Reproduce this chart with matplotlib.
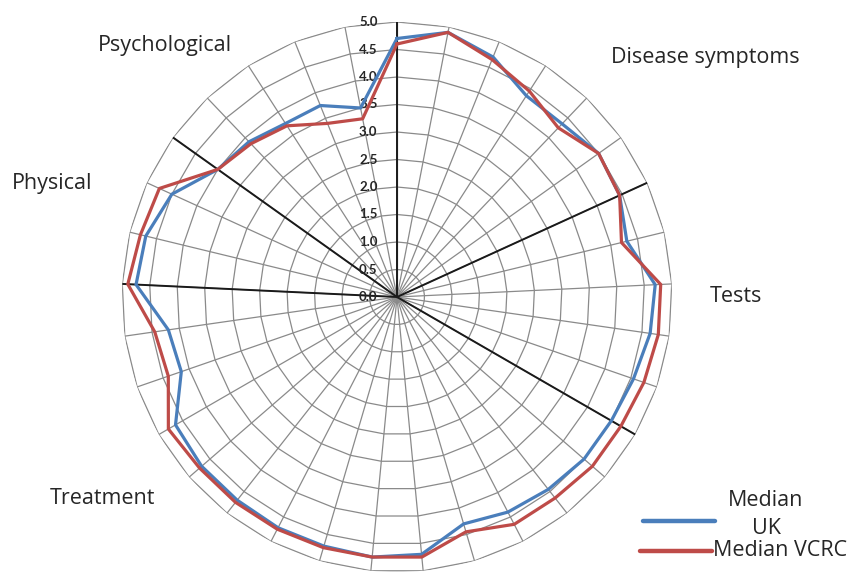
import numpy as np
import matplotlib
matplotlib.use("Agg")
import matplotlib.pyplot as plt
from matplotlib.lines import Line2D

# 33 questionnaire items, median score per item (0-5 scale)
n_items = 33
median_uk = [4.7, 4.9, 4.7, 4.35, 4.35, 4.5, 4.45, 4.3, 4.7, 4.65, 4.55,
             4.5, 4.5, 4.45, 4.4, 4.3, 4.7, 4.75, 4.72, 4.72, 4.7, 4.7,
             4.65, 4.15, 4.2, 4.75, 4.7, 4.5, 4.0, 3.9, 3.75, 3.75, 3.5]
median_vcrc = [4.6, 4.9, 4.65, 4.45, 4.25, 4.5, 4.45, 4.2, 4.8, 4.8, 4.75,
               4.7, 4.7, 4.65, 4.65, 4.45, 4.75, 4.75, 4.75, 4.75, 4.75, 4.75,
               4.8, 4.4, 4.45, 4.9, 4.8, 4.75, 4.0, 3.85, 3.7, 3.4, 3.3]

# item index where each domain starts
domain_starts = [0, 6, 11, 25, 28]
domain_names = ["Disease symptoms", "Tests", "Treatment", "Physical", "Psychological"]
domain_label_px = [(705, 57), (736, 296), (102, 499), (52, 184), (165, 45)]

r_ticks = np.arange(0, 5.01, 0.5)

W, H = 851, 574
fig = plt.figure(figsize=(W / 100, H / 100), dpi=100)
fig.patch.set_facecolor("white")

cx, cy, R = 397, 297, 275
ax = fig.add_axes([(cx - R) / W, (H - cy - R) / H, 2 * R / W, 2 * R / H],
                  projection="polar")
ax.set_theta_zero_location("N")
ax.set_theta_direction(-1)
ax.set_ylim(0, 5)
ax.grid(False)
ax.spines["polar"].set_visible(False)
ax.set_xticks([])
ax.set_yticks([])
ax.patch.set_alpha(0)

theta = np.arange(n_items) * 2 * np.pi / n_items
theta_closed = np.append(theta, theta[0])

# polygon gridlines and spokes
grid_col = "#8a8a8a"
for r in r_ticks[1:]:
    ax.plot(theta_closed, np.full(n_items + 1, r), color=grid_col, lw=0.9, zorder=1)
for t in theta:
    ax.plot([t, t], [0, 5], color=grid_col, lw=0.9, zorder=1)

# domain separators (the first one doubles as the value axis)
for k in domain_starts:
    ax.plot([theta[k], theta[k]], [0, 5], color="#1a1a1a", lw=1.4, zorder=3)

for r in r_ticks:
    ax.annotate(f"{r:.1f}", xy=(0, r), xytext=(-14, 0), textcoords="offset points",
                ha="right", va="center", fontsize=9.5, family="Lato",
                fontweight="bold", color="#262626", zorder=4)

ax.plot(theta_closed, median_uk + median_uk[:1], color="#4A7EBB", lw=2.3, zorder=5)
ax.plot(theta_closed, median_vcrc + median_vcrc[:1], color="#BE4B48", lw=2.3, zorder=5)

label_font = dict(fontsize=15.5, family="Open Sans", color="#262626")
for name, (px, py) in zip(domain_names, domain_label_px):
    fig.text(px / W, 1 - py / H, name, ha="center", va="center", **label_font)

# legend drawn by hand: Excel wrapped the first entry onto two lines
fig.add_artist(Line2D([643 / W, 715 / W], [1 - 521 / H, 1 - 521 / H],
                      color="#4A7EBB", lw=3.2, solid_capstyle="round"))
fig.add_artist(Line2D([640 / W, 712 / W], [1 - 551 / H, 1 - 551 / H],
                      color="#BE4B48", lw=3.2, solid_capstyle="round"))
fig.text(766 / W, 1 - 500 / H, "Median", ha="center", va="center", **label_font)
fig.text(766 / W, 1 - 529 / H, "UK", ha="center", va="center", **label_font)
fig.text(713 / W, 1 - 551 / H, "Median VCRC", ha="left", va="center", **label_font)

fig.savefig("out.png", dpi=100)
